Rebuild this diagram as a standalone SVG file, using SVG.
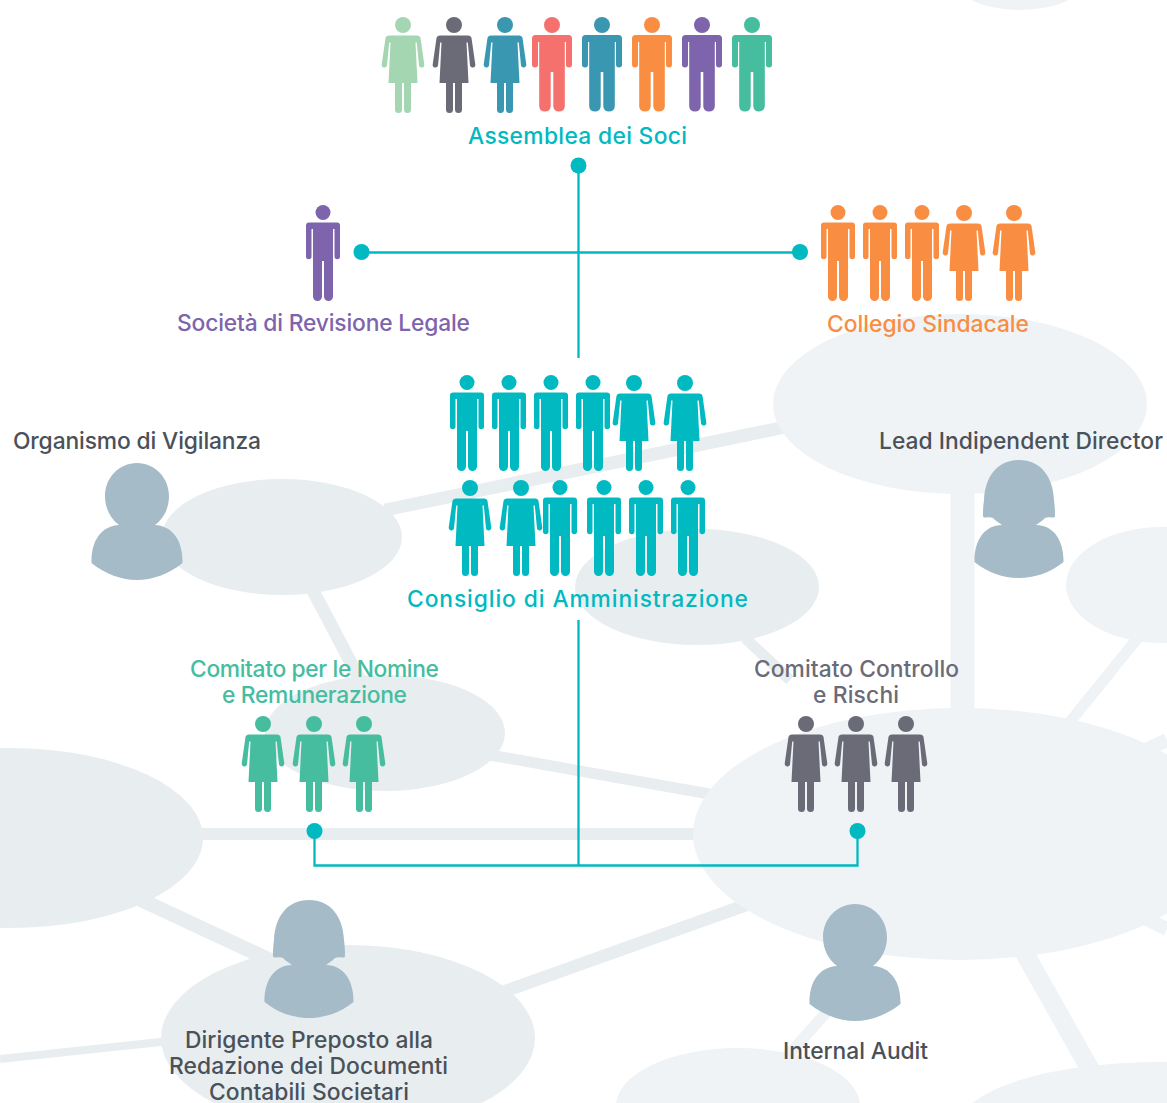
<svg xmlns="http://www.w3.org/2000/svg" width="1167" height="1103" viewBox="0 0 1167 1103">
<style>
.d{fill:#e8edf0}.l{fill:#eff3f6}
.bl{stroke:#e8edf0;fill:none}.bll{stroke:#eff3f6;fill:none}
.c{stroke:#00b9c1;stroke-width:2.300;fill:none}
.dot{fill:#00b9c1}
.t{font-family:"Inter","Liberation Sans",Arial,sans-serif;font-size:22.800px;text-anchor:middle;font-weight:500}
.g{fill:#4a5159}
.p{fill:#a5bbc7}
</style>
<defs>
<symbol id="mw" overflow="visible" viewBox="-25 0 50 100" width="50" height="100"><circle cx="0" cy="8" r="8"/><path d="M-16.500 18H16.500Q20 18 20 21.500V47.500A3 3 0 0 1 14 47.500V25H12.800V89.500A5.800 5.800 0 0 1 1.300 89.500V55H-1.300V89.500A5.800 5.800 0 0 1-12.800 89.500V25H-14V47.500A3 3 0 0 1-20 47.500V21.500Q-20 18-16.500 18Z"/></symbol>
<symbol id="mn" overflow="visible" viewBox="-25 0 50 100" width="50" height="100"><circle cx="0" cy="7.500" r="7.500"/><path d="M-14 17.500H14Q17 17.500 17 20.500V51.500A2.700 2.700 0 0 1 11.500 51.500V24H10V91.500A4.500 4.500 0 0 1 1 91.500V56H-1V91.500A4.500 4.500 0 0 1-10 91.500V24H-11.500V51.500A2.700 2.700 0 0 1-17 51.500V20.500Q-17 17.500-14 17.500Z"/></symbol>
<symbol id="f" overflow="visible" viewBox="-25 0 50 100" width="50" height="100"><circle cx="0" cy="8" r="8"/><path d="M-14 18.500H14Q17 18.500 17.500 21L21.300 47.500A2.700 2.700 0 0 1 16 48.500L13.800 25.500H12.500L14.500 66H8V92.500A3.500 3.500 0 0 1 1 92.500V66H-1V92.500A3.500 3.500 0 0 1-8 92.500V66H-14.500L-12.500 25.500H-13.800L-16 48.500A2.700 2.700 0 0 1-21.300 47.500L-17.500 21Q-17 18.500-14 18.500Z"/></symbol>
<path id="pm" d="M0 0C18 0 32 15 32 33C32 46 26 56 18 62C36 63 46 78 45.500 100C32 111 15 117 0 117C-15 117-32 111-45.500 100C-46 78-36 63-18 62C-26 56-32 46-32 33C-32 15-18 0 0 0Z"/>
<path id="pf" d="M0 0C22 0 34 17 35 40C36 48 36 52 36 56Q36 58 33 57.500C29 57 26 57 24 60L17 65C34 65 45 80 44.500 102C31 113 15 118 0 118C-15 118-31 113-44.500 102C-45 80-34 65-17 65L-24 60C-26 57-29 57-33 57.500Q-36 58-36 56C-36 52-36 48-35 40C-34 17-22 0 0 0Z"/>
</defs>
<g id="background">
<path class="bl" stroke-width="13" d="M385 510L790 426"/>
<path class="bl" stroke-width="13" d="M310 585L360 680"/>
<path class="bl" stroke-width="11" d="M490 755L715 795"/>
<path class="bl" stroke-width="12" d="M200 834H700"/>
<path class="bl" stroke-width="14.500" d="M135 897L285 967"/>
<path class="bl" stroke-width="12.500" d="M500 993L760 900"/>
<path class="bl" stroke-width="8" d="M0 1059L170 1041"/>
<path class="bll" stroke-width="24" d="M962.500 480V715"/>
<path class="bll" stroke-width="11" d="M1065 728L1145 629"/>
<path class="bll" stroke-width="19" d="M1020 945L1095 1078"/>
<path class="bll" stroke-width="11" d="M840 997L775 1070"/>
<path class="bll" stroke-width="14" d="M1130 757L1167 740"/>
<path class="bll" stroke-width="14" d="M1130 910.500L1167 929"/>
<path class="bl" stroke-width="11" d="M745 638L790 680"/>
<ellipse class="l" cx="960" cy="404" rx="187" ry="90"/>
<ellipse class="d" cx="282" cy="537" rx="120" ry="58"/>
<ellipse class="d" cx="697" cy="587" rx="122" ry="58"/>
<ellipse class="l" cx="1162" cy="585" rx="96" ry="58"/>
<ellipse class="d" cx="385" cy="733" rx="120" ry="58"/>
<ellipse class="d" cx="10" cy="838" rx="193" ry="90"/>
<ellipse class="l" cx="960" cy="834" rx="267" ry="126"/>
<ellipse class="d" cx="348" cy="1038" rx="187" ry="93"/>
<ellipse class="l" cx="738" cy="1106" rx="122" ry="58"/>
<ellipse class="l" cx="1160" cy="1125" rx="200" ry="63"/>
<ellipse class="l" cx="1020" cy="-25" rx="70" ry="35"/>
</g>
<g id="connectors">
<path class="c" d="M578.500 165V358M361 252.500H800M578.500 620V865.500M314.500 831V865.500H857.500V831"/>
<circle class="dot" cx="578.500" cy="165.500" r="8"/>
<circle class="dot" cx="361.500" cy="252" r="8"/>
<circle class="dot" cx="800" cy="252" r="8"/>
<circle class="dot" cx="314.500" cy="831" r="8"/>
<circle class="dot" cx="857.500" cy="831" r="8"/>
</g>
<g id="assemblea">
<use href="#f" x="403" y="17" transform="translate(-25 0)" fill="#a5d6b2"/>
<use href="#f" x="454" y="17" transform="translate(-25 0)" fill="#6b6b78"/>
<use href="#f" x="505" y="17" transform="translate(-25 0)" fill="#3a97b2"/>
<use href="#mw" x="552" y="17" transform="translate(-25 0)" fill="#f4716e"/>
<use href="#mw" x="602" y="17" transform="translate(-25 0)" fill="#3a97b2"/>
<use href="#mw" x="652" y="17" transform="translate(-25 0)" fill="#f98d42"/>
<use href="#mw" x="702" y="17" transform="translate(-25 0)" fill="#7e64ac"/>
<use href="#mw" x="752" y="17" transform="translate(-25 0)" fill="#45bd9e"/>
<text class="t" x="577.500" y="144" fill="#00b9c1" textLength="219">Assemblea dei Soci</text>
</g>
<g id="revisione">
<use href="#mn" x="323" y="205" transform="translate(-25 0)" fill="#7e64ac"/>
<text class="t" x="323.500" y="331" fill="#7e64ac" textLength="293">Società di Revisione Legale</text>
</g>
<g id="collegio" fill="#f98d42">
<use href="#mn" x="838" y="205" transform="translate(-25 0)"/>
<use href="#mn" x="880" y="205" transform="translate(-25 0)"/>
<use href="#mn" x="922" y="205" transform="translate(-25 0)"/>
<use href="#f" x="964" y="205" transform="translate(-25 0)"/>
<use href="#f" x="1014" y="205" transform="translate(-25 0)"/>
<text class="t" x="928" y="332" fill="#f98d42" textLength="202">Collegio Sindacale</text>
</g>
<g id="consiglio" fill="#00b9c1">
<use href="#mn" x="467" y="375" transform="translate(-25 0)"/>
<use href="#mn" x="509" y="375" transform="translate(-25 0)"/>
<use href="#mn" x="551" y="375" transform="translate(-25 0)"/>
<use href="#mn" x="593" y="375" transform="translate(-25 0)"/>
<use href="#f" x="634" y="375" transform="translate(-25 0)"/>
<use href="#f" x="685" y="375" transform="translate(-25 0)"/>
<use href="#f" x="470" y="480" transform="translate(-25 0)"/>
<use href="#f" x="521" y="480" transform="translate(-25 0)"/>
<use href="#mn" x="560" y="480" transform="translate(-25 0)"/>
<use href="#mn" x="604" y="480" transform="translate(-25 0)"/>
<use href="#mn" x="646" y="480" transform="translate(-25 0)"/>
<use href="#mn" x="688" y="480" transform="translate(-25 0)"/>
<text class="t" x="577.500" y="607" fill="#00b9c1" textLength="341">Consiglio di Amministrazione</text>
</g>
<g id="nomine" fill="#45bd9e">
<use href="#f" x="263" y="716" transform="translate(-25 0)"/>
<use href="#f" x="314" y="716" transform="translate(-25 0)"/>
<use href="#f" x="364" y="716" transform="translate(-25 0)"/>
<text class="t" x="314.500" y="677" fill="#45bd9e" textLength="249">Comitato per le Nomine</text>
<text class="t" x="314.500" y="703" fill="#45bd9e" textLength="185">e Remunerazione</text>
</g>
<g id="controllo" fill="#6b6b78">
<use href="#f" x="806" y="716" transform="translate(-25 0)"/>
<use href="#f" x="856" y="716" transform="translate(-25 0)"/>
<use href="#f" x="906" y="716" transform="translate(-25 0)"/>
<text class="t" x="856.500" y="677" fill="#6b6b78" textLength="205">Comitato Controllo</text>
<text class="t" x="856" y="703" fill="#6b6b78" textLength="86">e Rischi</text>
</g>
<g id="vigilanza">
<use href="#pm" x="137" y="463" class="p"/>
<text class="t g" x="137" y="449" textLength="248">Organismo di Vigilanza</text>
</g>
<g id="lead">
<use href="#pf" x="1019" y="460" class="p"/>
<text class="t g" x="1021" y="449" textLength="284">Lead Indipendent Director</text>
</g>
<g id="dirigente">
<use href="#pf" x="309" y="900" class="p"/>
<text class="t g" x="309" y="1048" textLength="248">Dirigente Preposto alla</text>
<text class="t g" x="308.500" y="1074" textLength="279">Redazione dei Documenti</text>
<text class="t g" x="309" y="1100" textLength="200">Contabili Societari</text>
</g>
<g id="audit">
<use href="#pm" x="855" y="904" class="p"/>
<text class="t g" x="855.500" y="1059" textLength="145">Internal Audit</text>
</g>
</svg>
